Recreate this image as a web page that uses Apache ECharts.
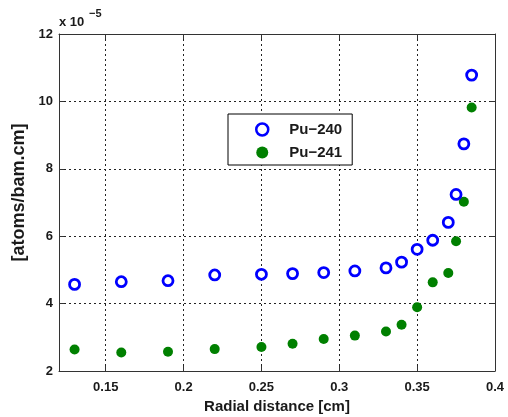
<!DOCTYPE html>
<html>
<head>
<meta charset="utf-8">
<script src="https://cdn.jsdelivr.net/npm/echarts@6/dist/echarts.min.js"></script>
<style>html,body{margin:0;padding:0;background:#fff}#c{width:508px;height:417px}</style>
</head>
<body>
<div id="c"></div>
<script>
const radius = [0.13, 0.16, 0.19, 0.22, 0.25, 0.27, 0.29, 0.31, 0.33, 0.34, 0.35, 0.36, 0.37, 0.375, 0.38, 0.385];
const pu240 = [4.57, 4.65, 4.68, 4.85, 4.87, 4.89, 4.92, 4.97, 5.06, 5.23, 5.61, 5.88, 6.41, 7.24, 8.74, 10.78];
const pu241 = [2.64, 2.55, 2.57, 2.65, 2.71, 2.81, 2.95, 3.05, 3.17, 3.37, 3.89, 4.63, 4.91, 5.85, 7.02, 9.82];
const seriesNames = ['Pu\u2212240', 'Pu\u2212241'];
const xName = 'Radial distance [cm]';
const yName = '[atoms/bam.cm]';

const font = 'Liberation Sans, Arial, sans-serif';
const ink = '#1a1a1a';
const chart = echarts.init(document.getElementById('c'), null, {renderer: 'canvas'});
const pair = (xs, ys) => xs.map((x, i) => [x, ys[i]]);
const gridLine = {show: true, lineStyle: {color: '#222', type: [2, 3], width: 1}};
const axLine = {show: true, lineStyle: {color: '#333', width: 1}};
chart.setOption({
  animation: false,
  backgroundColor: '#fff',
  title: [
    {text: 'x 10', left: 59, top: 16, textStyle: {fontFamily: font, fontWeight: 'bold', fontSize: 13, color: ink}, padding: 0},
    {text: '\u22125', left: 89, top: 8, textStyle: {fontFamily: font, fontWeight: 'bold', fontSize: 11, color: ink}, padding: 0}
  ],
  grid: {left: 59, right: 13, top: 34, bottom: 46, containLabel: false, outerBoundsMode: 'none'},
  legend: {
    orient: 'vertical',
    left: 228, top: 114,
    padding: [8, 10, 5, 27],
    itemWidth: 44, itemHeight: 12, itemGap: 8,
    borderColor: '#000', borderWidth: 1,
    backgroundColor: '#fff',
    textStyle: {fontFamily: font, fontWeight: 'bold', fontSize: 15, color: ink},
    data: [
      {name: seriesNames[0], icon: 'circle', itemStyle: {color: 'rgba(255,255,255,0)', borderColor: '#0000ff', borderWidth: 2.5, opacity: 1}},
      {name: seriesNames[1], icon: 'circle', itemStyle: {color: '#008000', borderWidth: 0, opacity: 1}}
    ]
  },
  xAxis: [{
    type: 'value', min: 0.12, max: 0.4, splitNumber: 5,
    axisLine: axLine, axisTick: {show: true, inside: true, length: 5, lineStyle: {color: '#333'}},
    axisLabel: {showMinLabel: false, margin: 10, fontFamily: font, fontWeight: 'bold', fontSize: 13, color: ink},
    splitLine: gridLine,
    name: xName, nameLocation: 'middle', nameGap: 28,
    nameTextStyle: {fontFamily: font, fontWeight: 'bold', fontSize: 15, color: ink}
  }, {
    type: 'value', position: 'top', min: 0.12, max: 0.4, splitNumber: 5,
    axisLine: axLine, axisTick: {show: true, inside: true, length: 5, lineStyle: {color: '#333'}},
    axisLabel: {show: false}, splitLine: {show: false}
  }],
  yAxis: [{
    type: 'value', min: 2, max: 12, interval: 2,
    axisLine: axLine, axisTick: {show: true, inside: true, length: 5, lineStyle: {color: '#333'}},
    axisLabel: {margin: 6, fontFamily: font, fontWeight: 'bold', fontSize: 13, color: ink},
    splitLine: gridLine,
    name: yName, nameLocation: 'middle', nameGap: 27,
    nameTextStyle: {fontFamily: font, fontWeight: 'bold', fontSize: 18, color: ink, padding: [0, 0, 0, 20]}
  }, {
    type: 'value', position: 'right', min: 2, max: 12, interval: 2,
    axisLine: axLine, axisTick: {show: true, inside: true, length: 5, lineStyle: {color: '#333'}},
    axisLabel: {show: false}, splitLine: {show: false}
  }],
  series: [{
    name: seriesNames[0], type: 'scatter', data: pair(radius, pu240),
    symbol: 'circle', symbolSize: 10,
    itemStyle: {color: '#fff', borderColor: '#0000ff', borderWidth: 2.8, opacity: 1}, z: 3
  }, {
    name: seriesNames[1], type: 'scatter', data: pair(radius, pu241),
    symbol: 'circle', symbolSize: 10,
    itemStyle: {color: '#008000', opacity: 1}, z: 2
  }]
});
</script>
</body>
</html>
